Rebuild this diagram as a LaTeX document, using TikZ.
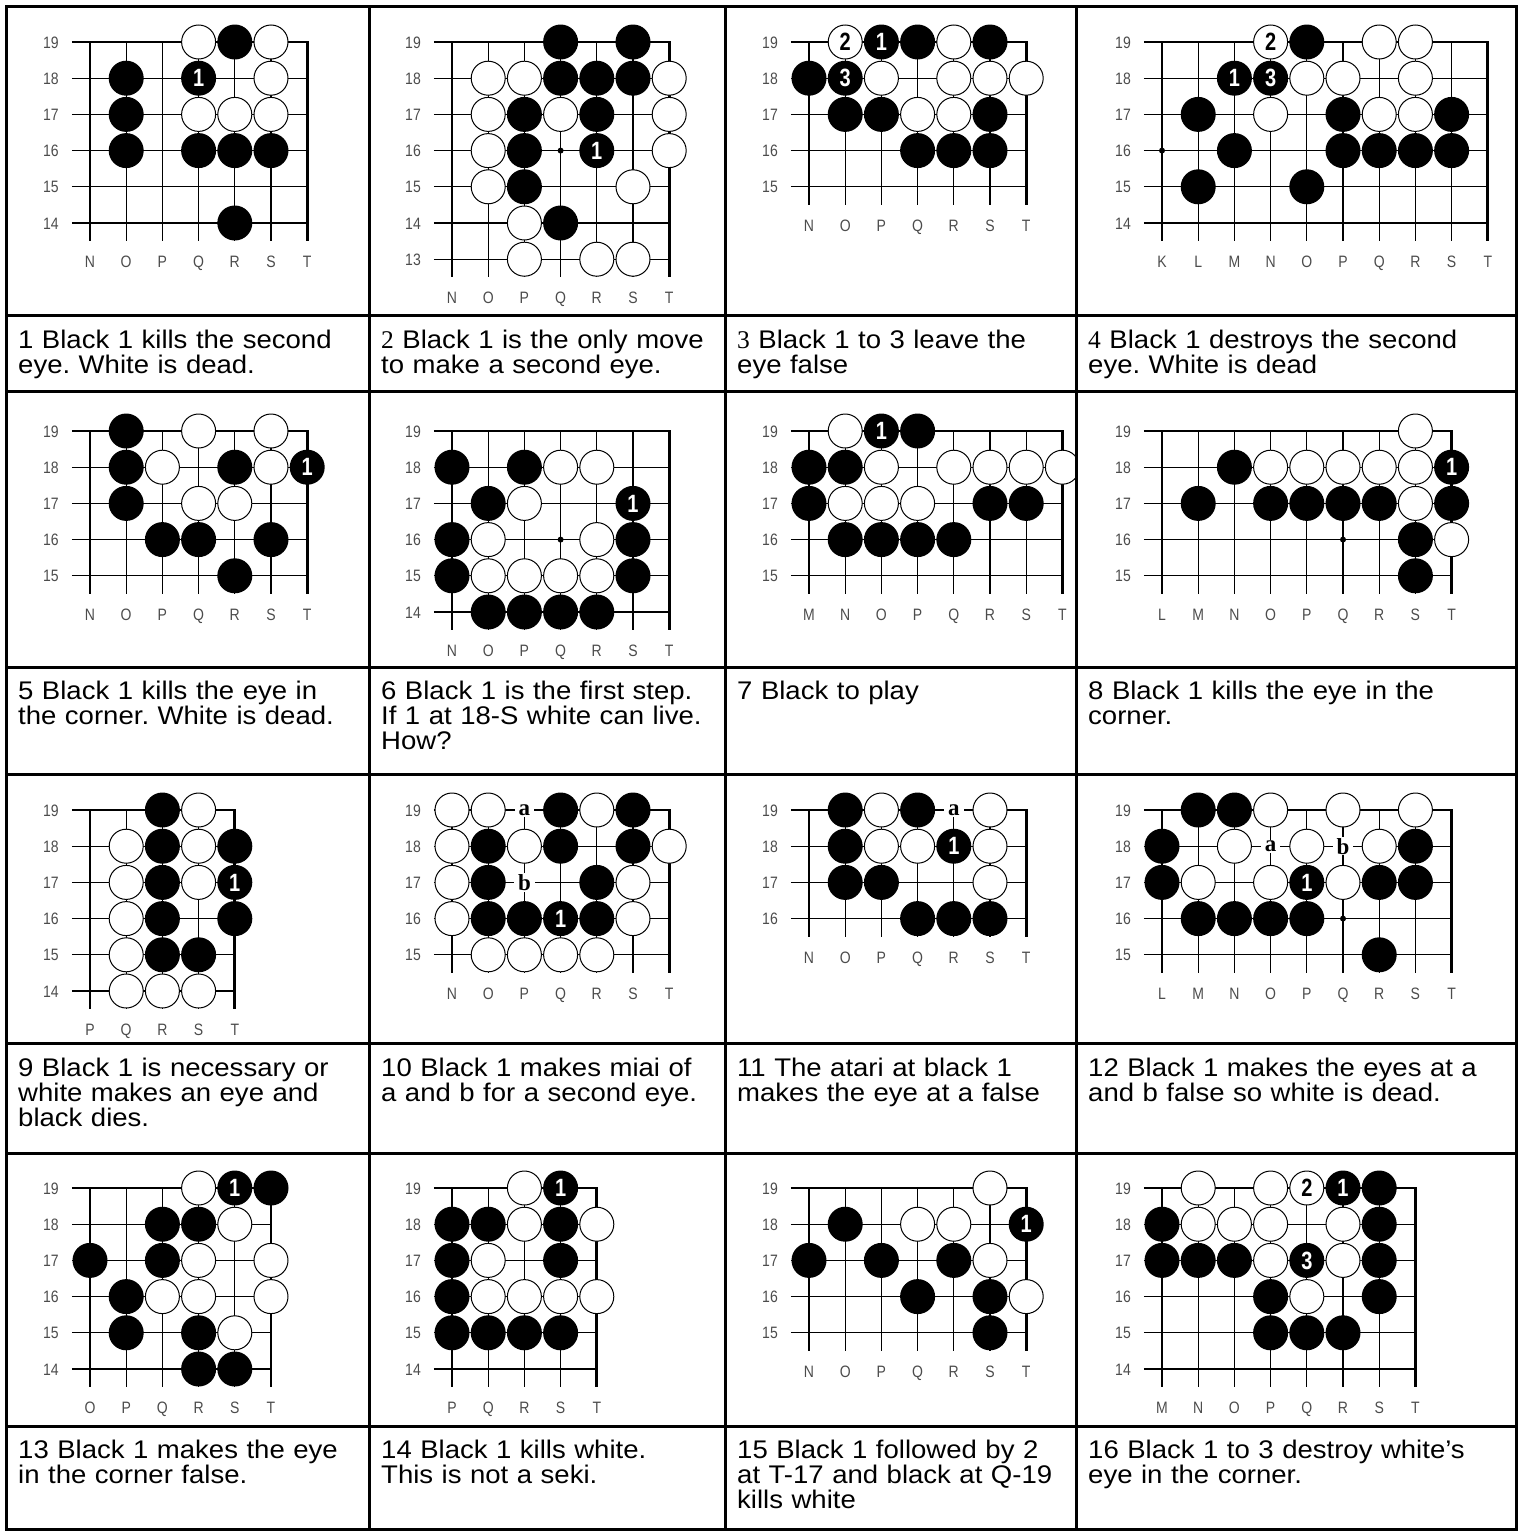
\documentclass[tikz,border=0pt]{standalone}
\usepackage{fontspec}
\setmainfont{Liberation Sans}[FakeStretch=1.08]
\newfontfamily\serifdigit{Liberation Serif}
\newfontfamily\stonefont{Liberation Sans}[FakeStretch=0.8]
\newfontfamily\coordfont{Liberation Sans}[FakeStretch=0.85]
\newfontfamily\pointfont{Liberation Serif}
\frenchspacing

\newcommand{\gsp}{36.2}

% board corner: name, x of first column, y of row 19, columns, lowest row
\newcommand{\goboard}[5]{%
    \def\bid{#1}
    \foreach \c [count=\i from 0] in {#4} {
        \xdef\lastcol{\i}
        \foreach \r in {19,...,#5}
            \coordinate (\c\r) at ({#2+\i*\gsp},{#3+(19-\r)*\gsp});
        \node[coordlabel] (#1-lab\c) at ({#2+\i*\gsp},{#3+(19-#5)*\gsp+38.5}) {\c};
    }
    \pgfmathsetmacro\xr{#2+\lastcol*\gsp}
    \pgfmathsetmacro\yb{#3+(19-#5)*\gsp+\gsp/2}
    \pgfmathtruncatemacro\lastcolm{\lastcol-1}
    \foreach \r in {19,...,#5}
        \node[coordlabel] (#1-row\r) at ({#2-39},{#3+(19-\r)*\gsp}) {\r};
    \foreach \r in {18,...,#5}
        \draw[gridline] ({#2-\gsp/2},{#3+(19-\r)*\gsp}) -- (\xr,{#3+(19-\r)*\gsp});
    \foreach \i in {0,...,\lastcolm}
        \draw[gridline] ({#2+\i*\gsp},#3) -- ({#2+\i*\gsp},\yb);
    \draw[edgeline] ({#2-\gsp/2},#3) -- (\xr,#3) -- (\xr,\yb);
}
\newcommand{\blacks}[1]{\foreach \p in {#1} \node[bstone] (\bid-\p) at (\p) {};}
\newcommand{\whites}[1]{\foreach \p in {#1} \node[wstone] (\bid-\p) at (\p) {};}
\newcommand{\bnum}[2]{\node[bstone] (\bid-#1) at (#1) {#2};}
\newcommand{\wnum}[2]{\node[wstone] (\bid-#1) at (#1) {#2};}
\newcommand{\hoshi}[1]{\node[starpoint] (\bid-hoshi) at (#1) {};}
\newcommand{\ptmark}[2]{\node[pointlabel] (\bid-#1) at (#1) {#2};}

\begin{document}
\begin{tikzpicture}[
        x=1pt, y=-1pt,
        tableline/.style={line width=3pt},
        gridline/.style={line width=1.2pt},
        edgeline/.style={line width=2.8pt, line join=miter},
        bstone/.style={
            circle,
            fill=black,
            minimum size=35pt,
            inner sep=0pt,
            text=white,
            font=\stonefont\bfseries\fontsize{25}{25}\selectfont
        },
        wstone/.style={
            circle,
            draw,
            fill=white,
            line width=1pt,
            minimum size=34pt,
            inner sep=0pt,
            font=\stonefont\bfseries\fontsize{25}{25}\selectfont
        },
        starpoint/.style={circle, fill=black, minimum size=6pt, inner sep=0pt},
        pointlabel/.style={
            fill=white,
            inner xsep=4pt,
            inner ysep=1pt,
            font=\pointfont\bfseries\fontsize{23}{23}\selectfont
        },
        coordlabel/.style={
            inner sep=0pt,
            text height=12pt,
            text depth=0pt,
            text=black!70,
            font=\coordfont\fontsize{16.5}{16.5}\selectfont
        },
        celltext/.style={
            anchor=base west,
            text width=430pt,
            align=left,
            inner sep=0pt,
            font=\fontsize{25.5}{25}\selectfont
        }
    ]
    \useasboundingbox (0,0) rectangle (1519,1531);

    % row 1
    \goboard{d1}{90}{42}{N,O,P,Q,R,S,T}{14}
    \whites{Q19,S19,S18,Q17,R17,S17}
    \blacks{R19,O18,O17,O16,Q16,R16,S16,R14}
    \bnum{Q18}{1}

    \goboard{d2}{452}{42}{N,O,P,Q,R,S,T}{13}
    \hoshi{Q16}
    \blacks{Q19,S19,Q18,R18,S18,P17,R17,P16,P15,Q14}
    \whites{O18,P18,T18,O17,Q17,T17,O16,T16,O15,S15,P14,P13,R13,S13}
    \bnum{R16}{1}

    \goboard{d3}{809}{42}{N,O,P,Q,R,S,T}{15}
    \blacks{Q19,S19,N18,O17,P17,S17,Q16,R16,S16}
    \whites{R19,P18,R18,S18,T18,Q17,R17}
    \wnum{O19}{2}
    \bnum{P19}{1}
    \bnum{O18}{3}

    \goboard{d4}{1162}{42}{K,L,M,N,O,P,Q,R,S,T}{14}
    \hoshi{K16}
    \blacks{O19,L17,P17,S17,M16,P16,Q16,R16,S16,L15,O15}
    \whites{Q19,R19,O18,P18,R18,N17,Q17,R17}
    \wnum{N19}{2}
    \bnum{M18}{1}
    \bnum{N18}{3}

    % row 2
    \goboard{d5}{90}{431}{N,O,P,Q,R,S,T}{15}
    \blacks{O19,O18,R18,O17,P16,Q16,S16,R15}
    \whites{Q19,S19,P18,S18,Q17,R17}
    \bnum{T18}{1}

    \goboard{d6}{452}{431}{N,O,P,Q,R,S,T}{14}
    \hoshi{Q16}
    \blacks{N18,P18,O17,N16,S16,N15,S15,O14,P14,Q14,R14}
    \whites{Q18,R18,P17,O16,R16,O15,P15,Q15,R15}
    \bnum{S17}{1}

    \begin{scope}
        \clip (725,391) rectangle (1076,667);
        \goboard{d7}{809}{431}{M,N,O,P,Q,R,S,T}{15}
        \blacks{P19,M18,N18,M17,R17,S17,N16,O16,P16,Q16}
        \whites{N19,O18,Q18,R18,S18,T18,N17,O17,P17}
        \bnum{O19}{1}
    \end{scope}

    \goboard{d8}{1162}{431}{L,M,N,O,P,Q,R,S,T}{15}
    \hoshi{Q16}
    \blacks{N18,M17,O17,P17,Q17,R17,T17,S16,S15}
    \whites{S19,O18,P18,Q18,R18,S18,S17,T16}
    \bnum{T18}{1}

    % row 3
    \goboard{d9}{90}{810}{P,Q,R,S,T}{14}
    \blacks{R19,R18,T18,R17,R16,T16,R15,S15}
    \whites{S19,Q18,S18,Q17,S17,Q16,Q15,Q14,R14,S14}
    \bnum{T17}{1}

    \goboard{d10}{452}{810}{N,O,P,Q,R,S,T}{15}
    \blacks{Q19,S19,O18,Q18,S18,O17,R17,O16,P16,R16}
    \whites{N19,O19,R19,N18,P18,T18,N17,S17,N16,S16,O15,P15,Q15,R15}
    \bnum{Q16}{1}
    \ptmark{P19}{a}
    \ptmark{P17}{b}

    \goboard{d11}{809}{810}{N,O,P,Q,R,S,T}{16}
    \blacks{O19,Q19,O18,O17,P17,Q16,R16,S16}
    \whites{P19,S19,P18,Q18,S18,S17}
    \bnum{R18}{1}
    \ptmark{R19}{a}

    \goboard{d12}{1162}{810}{L,M,N,O,P,Q,R,S,T}{15}
    \hoshi{Q16}
    \blacks{M19,N19,L18,S18,L17,R17,S17,M16,N16,O16,P16,R15}
    \whites{O19,Q19,S19,N18,P18,R18,M17,O17,Q17}
    \bnum{P17}{1}
    \ptmark{O18}{a}
    \ptmark{Q18}{b}

    % row 4
    \goboard{d13}{90}{1188}{O,P,Q,R,S,T}{14}
    \blacks{T19,Q18,R18,O17,Q17,P16,P15,R15,R14,S14}
    \whites{R19,S18,R17,T17,Q16,R16,T16,S15}
    \bnum{S19}{1}

    \goboard{d14}{452}{1188}{P,Q,R,S,T}{14}
    \blacks{P18,Q18,S18,P17,S17,P16,P15,Q15,R15,S15}
    \whites{R19,R18,T18,Q17,Q16,R16,S16,T16}
    \bnum{S19}{1}

    \goboard{d15}{809}{1188}{N,O,P,Q,R,S,T}{15}
    \blacks{O18,N17,P17,R17,Q16,S16,S15}
    \whites{S19,Q18,R18,S17,T16}
    \bnum{T18}{1}

    \goboard{d16}{1162}{1188}{M,N,O,P,Q,R,S,T}{14}
    \blacks{S19,M18,S18,M17,N17,O17,S17,P16,S16,P15,Q15,R15}
    \whites{N19,P19,N18,O18,P18,R18,P17,R17,Q16}
    \wnum{Q19}{2}
    \bnum{R19}{1}
    \bnum{Q17}{3}

    % captions
    \node[celltext] (t1) at (18,348) {1 Black 1 kills the second\\eye. White is dead.};
    \node[celltext] (t2) at (381,348) {{\serifdigit 2} Black 1 is the only move\\to make a second eye.};
    \node[celltext] (t3) at (737,348) {{\serifdigit 3} Black 1 to 3 leave the\\eye false};
    \node[celltext] (t4) at (1088,348) {{\serifdigit 4} Black 1 destroys the second\\eye. White is dead};
    \node[celltext] (t5) at (18,699) {5 Black 1 kills the eye in\\the corner. White is dead.};
    \node[celltext] (t6) at (381,699) {6 Black 1 is the first step.\\If 1 at 18-S white can live.\\How?};
    \node[celltext] (t7) at (737,699) {7 Black to play};
    \node[celltext] (t8) at (1088,699) {8 Black 1 kills the eye in the\\corner.};
    \node[celltext] (t9) at (18,1076) {9 Black 1 is necessary or\\white makes an eye and\\black dies.};
    \node[celltext] (t10) at (381,1076) {10 Black 1 makes miai of\\a and b for a second eye.};
    \node[celltext] (t11) at (737,1076) {11 The atari at black 1\\makes the eye at a false};
    \node[celltext] (t12) at (1088,1076) {12 Black 1 makes the eyes at a\\and b false so white is dead.};
    \node[celltext] (t13) at (18,1458) {13 Black 1 makes the eye\\in the corner false.};
    \node[celltext] (t14) at (381,1458) {14 Black 1 kills white.\\This is not a seki.};
    \node[celltext] (t15) at (737,1458) {15 Black 1 followed by 2\\at T-17 and black at Q-19\\kills white};
    \node[celltext] (t16) at (1088,1458) {16 Black 1 to 3 destroy white’s\\eye in the corner.};

    % table rules
    \draw[tableline] (6,6.5) rectangle (1516,1529);
    \foreach \y in {315,391,667,774,1043,1153,1426}
        \draw[tableline] (6,\y) -- (1516,\y);
    \foreach \x in {369,725,1076}
        \draw[tableline] (\x,6.5) -- (\x,1529);

\end{tikzpicture}
\end{document}
